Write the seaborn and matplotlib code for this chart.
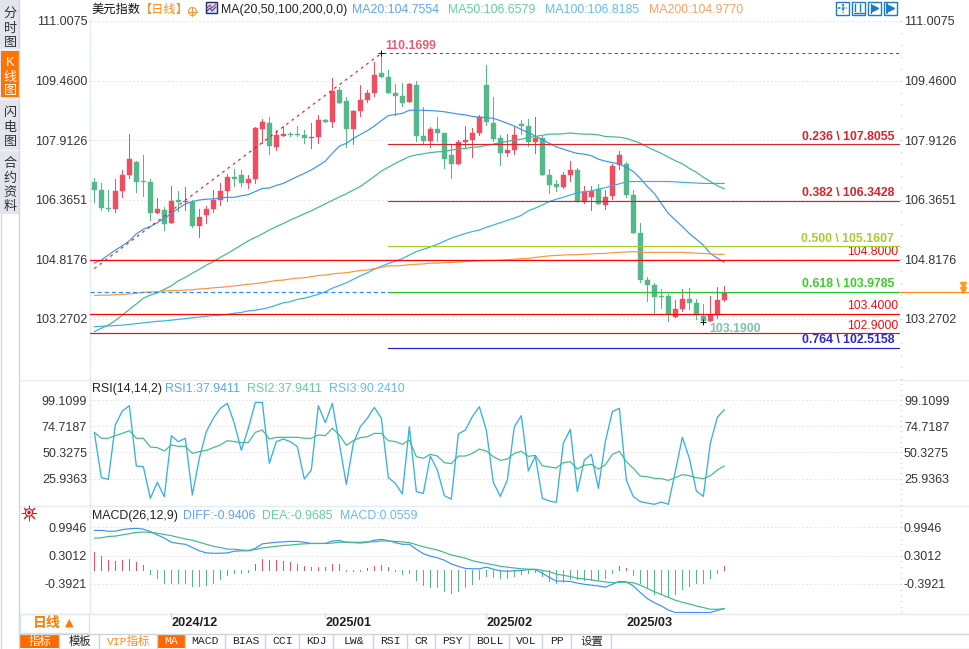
import numpy as np
import seaborn as sns
import matplotlib
matplotlib.use('Agg')
import matplotlib.pyplot as plt
from matplotlib.patches import Rectangle, Circle
from matplotlib.ticker import AutoMinorLocator

# candles, one per trading day
open_ = [106.83,106.62,106.16,106.13,106.59,107.01,107.35,106.85,106.83,106.02,
         106.10,105.76,106.36,106.31,106.31,105.68,105.97,106.13,106.36,106.59,
         106.96,107.01,106.80,106.90,108.20,108.36,107.74,108.02,108.07,108.07,
         108.05,107.98,108.00,108.44,108.39,109.22,108.93,108.20,108.67,108.96,
         109.14,109.66,109.55,109.14,109.06,108.90,109.35,108.02,107.89,108.20,
         108.10,107.53,107.30,107.87,107.92,108.10,109.35,108.36,107.97,107.58,
         107.66,108.33,108.28,107.87,107.97,107.01,106.78,106.70,107.01,107.14,
         106.31,106.44,106.65,106.23,106.46,107.27,107.30,106.49,105.50,104.28,
         104.15,103.87,103.87,103.32,103.53,103.79,103.69,103.35,103.21,103.37,
         103.76]
high = [106.93,106.81,106.62,106.90,107.14,108.07,107.37,107.53,106.90,106.41,
        106.19,106.72,106.59,106.70,106.36,106.13,106.20,106.62,106.80,107.03,
        107.16,107.14,107.01,108.26,108.46,108.51,108.18,108.28,108.13,108.28,
        108.18,108.36,108.57,108.46,109.53,109.29,109.03,108.70,109.35,109.22,
        109.94,110.17,109.74,109.37,109.40,109.39,109.45,108.78,108.26,108.51,
        108.10,107.79,107.92,108.28,108.23,108.57,109.87,109.03,108.05,108.07,
        108.28,108.44,108.45,108.51,108.02,107.16,106.88,107.09,107.37,107.19,
        106.72,106.72,106.78,106.62,107.30,107.63,107.35,106.62,105.76,104.36,
        104.20,104.05,103.92,103.76,104.05,104.08,103.79,103.66,103.87,104.10,
        104.13]
low = [106.32,106.10,106.07,106.05,106.45,106.94,106.57,106.46,105.84,106.01,
       105.58,105.76,106.07,106.10,105.65,105.41,105.76,106.05,106.23,106.33,
       106.72,106.72,106.67,106.80,107.83,107.55,107.66,108.02,108.02,108.02,
       107.84,107.71,107.84,108.39,108.26,108.88,107.74,107.81,108.54,108.90,
       109.06,109.55,109.14,108.57,108.80,108.90,107.89,107.83,107.74,107.89,
       107.19,106.93,107.30,107.74,107.48,108.05,108.31,107.89,107.27,107.50,
       107.55,108.07,107.76,107.58,107.01,106.54,106.59,106.67,106.85,106.31,
       106.28,106.10,106.26,106.13,106.39,107.16,106.44,105.50,104.23,103.74,
       103.43,103.55,103.21,103.32,103.48,103.53,103.27,103.19,103.21,103.30,
       103.74]
close = [106.62,106.16,106.13,106.59,107.01,107.42,106.83,106.83,106.02,106.13,
         105.74,106.33,106.31,106.33,105.68,105.92,106.13,106.36,106.59,106.96,
         106.90,106.80,106.90,108.23,108.39,107.76,108.05,108.07,108.05,108.05,
         107.97,108.00,108.44,108.39,109.19,108.88,108.20,108.67,108.96,109.14,
         109.61,109.55,109.14,109.06,108.88,109.37,108.02,107.89,108.20,108.10,
         107.42,107.30,107.87,107.92,108.10,108.52,108.39,107.94,107.58,107.66,
         108.05,108.28,107.87,107.97,107.01,106.75,106.70,107.01,107.14,106.33,
         106.58,106.59,106.26,106.44,107.24,107.53,106.49,105.50,104.28,104.15,
         103.84,103.84,103.40,103.53,103.79,103.69,103.37,103.21,103.37,103.76,
         103.95]

ma20 = [104.72,104.80,104.93,105.06,105.17,105.30,105.48,105.60,105.67,105.77,
        105.88,106.01,106.14,106.26,106.32,106.36,106.38,106.39,106.41,106.43,
        106.43,106.47,106.50,106.58,106.66,106.67,106.74,106.79,106.88,106.97,
        107.05,107.14,107.25,107.37,107.57,107.76,107.83,107.96,108.06,108.16,
        108.28,108.42,108.55,108.58,108.61,108.69,108.69,108.69,108.68,108.67,
        108.65,108.62,108.59,108.57,108.53,108.51,108.50,108.48,108.42,108.35,
        108.28,108.19,108.11,108.02,107.92,107.83,107.74,107.68,107.62,107.57,
        107.55,107.51,107.42,107.37,107.33,107.30,107.20,107.10,106.92,106.71,
        106.53,106.27,106.01,105.84,105.67,105.49,105.34,105.19,104.97,104.85,
        104.74]
ma50 = [102.94,103.03,103.11,103.23,103.37,103.52,103.66,103.81,103.89,103.95,
        104.04,104.13,104.26,104.35,104.46,104.56,104.67,104.76,104.87,104.97,
        105.08,105.19,105.30,105.39,105.48,105.58,105.67,105.75,105.84,105.92,
        106.00,106.08,106.17,106.26,106.35,106.44,106.52,106.62,106.71,106.84,
        106.97,107.11,107.21,107.31,107.40,107.49,107.53,107.56,107.59,107.61,
        107.62,107.66,107.68,107.70,107.73,107.74,107.78,107.81,107.85,107.88,
        107.92,107.94,107.98,108.01,108.04,108.07,108.07,108.08,108.10,108.08,
        108.07,108.07,108.05,108.01,108.00,107.99,107.96,107.90,107.83,107.74,
        107.65,107.57,107.47,107.38,107.30,107.18,107.08,106.95,106.84,106.73,
        106.65]
ma100 = [103.07,103.08,103.09,103.10,103.11,103.13,103.15,103.17,103.19,103.21,
         103.22,103.24,103.26,103.28,103.30,103.32,103.34,103.36,103.37,103.39,
         103.42,103.44,103.48,103.50,103.53,103.57,103.63,103.69,103.72,103.78,
         103.81,103.86,103.91,103.98,104.07,104.14,104.21,104.30,104.39,104.47,
         104.56,104.64,104.71,104.77,104.84,104.93,105.02,105.08,105.14,105.21,
         105.29,105.37,105.43,105.49,105.54,105.58,105.65,105.71,105.77,105.83,
         105.89,105.96,106.08,106.15,106.23,106.32,106.38,106.43,106.49,106.55,
         106.58,106.59,106.64,106.68,106.73,106.78,106.83,106.84,106.84,106.84,
         106.84,106.84,106.84,106.83,106.82,106.81,106.80,106.79,106.79,106.79,
         106.79]
ma200 = [103.88,103.89,103.89,103.90,103.91,103.92,103.94,103.96,103.97,103.98,
         104.00,104.01,104.01,104.02,104.03,104.05,104.06,104.08,104.09,104.11,
         104.13,104.15,104.17,104.19,104.21,104.24,104.27,104.28,104.31,104.33,
         104.34,104.37,104.40,104.41,104.44,104.46,104.47,104.50,104.53,104.54,
         104.58,104.61,104.65,104.65,104.66,104.68,104.69,104.70,104.72,104.72,
         104.73,104.74,104.75,104.76,104.77,104.78,104.79,104.79,104.80,104.81,
         104.82,104.84,104.84,104.87,104.89,104.91,104.92,104.93,104.94,104.94,
         104.95,104.96,104.97,104.97,104.99,105.00,105.01,105.02,105.00,105.00,
         105.00,105.00,105.00,105.00,105.00,104.99,104.98,104.97,104.96,104.95,
         104.95]

rsi3 = [69.0,26.9,25.3,75.9,88.9,93.8,37.7,37.1,7.7,22.5,
        9.2,65.9,60.4,63.5,10.8,44.9,69.7,82.1,91.4,96.0,
        77.4,52.3,72.8,96.9,96.9,40.2,60.4,62.8,60.4,55.7,
        25.6,34.0,93.8,78.0,96.0,58.8,20.7,58.8,74.3,82.1,
        92.3,82.1,26.9,21.6,11.7,74.3,13.9,12.3,47.0,34.0,
        10.1,7.0,67.5,71.2,83.6,92.9,71.2,22.5,9.5,24.7,
        74.3,84.5,33.1,47.0,7.7,5.2,4.0,58.8,71.8,13.9,
        43.3,48.6,16.9,60.4,88.3,91.4,24.7,9.2,4.6,3.3,
        2.1,4.2,2.1,32.5,64.4,44.9,14.5,9.5,58.8,83.0,
        90.2]
rsi2 = [69.0,63.5,63.5,65.9,68.1,70.6,63.5,63.5,55.4,54.8,
        51.7,57.3,56.0,56.0,49.5,51.1,52.3,54.8,57.3,61.3,
        60.4,59.4,59.7,69.0,71.2,62.8,64.4,64.4,64.4,64.4,
        63.5,63.5,66.6,65.9,72.8,66.6,57.0,61.3,64.1,65.0,
        68.1,68.1,61.3,60.4,57.9,61.9,46.4,44.9,48.6,47.0,
        40.8,39.9,47.0,47.0,49.5,53.5,51.7,46.4,43.0,44.2,
        49.5,51.4,46.7,47.6,38.0,36.8,35.9,40.8,41.8,34.9,
        38.4,39.3,34.9,38.7,48.6,51.4,41.8,35.6,28.4,27.8,
        26.3,25.9,24.4,26.9,29.7,28.7,26.9,25.9,28.7,34.0,
        37.9]

diff = [0.92,0.92,0.90,0.90,0.94,0.96,0.97,0.95,0.89,0.81,
        0.73,0.63,0.60,0.58,0.50,0.42,0.37,0.36,0.36,0.37,
        0.41,0.42,0.42,0.48,0.59,0.61,0.63,0.64,0.65,0.65,
        0.63,0.60,0.60,0.60,0.66,0.67,0.63,0.62,0.61,0.63,
        0.68,0.70,0.67,0.62,0.58,0.58,0.46,0.35,0.29,0.25,
        0.19,0.10,0.04,-0.01,-0.02,-0.02,0.02,-0.03,-0.07,-0.08,
        -0.07,-0.06,-0.04,-0.04,-0.13,-0.23,-0.32,-0.32,-0.33,-0.37,
        -0.40,-0.42,-0.44,-0.47,-0.40,-0.33,-0.34,-0.44,-0.60,-0.75,
        -0.85,-0.93,-1.03,-1.09,-1.09,-1.09,-1.09,-1.09,-1.09,-1.04,
        -0.99]
dea = [0.73,0.74,0.77,0.78,0.81,0.84,0.87,0.88,0.87,0.85,
       0.82,0.79,0.75,0.71,0.68,0.63,0.58,0.53,0.50,0.46,
       0.46,0.44,0.43,0.45,0.49,0.51,0.53,0.55,0.56,0.58,
       0.59,0.60,0.60,0.60,0.61,0.63,0.63,0.63,0.63,0.64,
       0.64,0.66,0.66,0.65,0.64,0.62,0.57,0.52,0.48,0.44,
       0.38,0.32,0.28,0.24,0.18,0.14,0.11,0.08,0.04,0.02,
       0.00,-0.02,-0.03,-0.03,-0.06,-0.09,-0.15,-0.18,-0.21,-0.25,
       -0.27,-0.29,-0.32,-0.34,-0.36,-0.35,-0.35,-0.36,-0.42,-0.50,
       -0.58,-0.65,-0.72,-0.79,-0.84,-0.88,-0.93,-0.97,-1.01,-1.01,
       -1.00]
macd_bars = [0.44,0.34,0.24,0.22,0.24,0.27,0.20,0.12,-0.10,-0.20,
             -0.32,-0.32,-0.32,-0.32,-0.39,-0.39,-0.37,-0.32,-0.22,-0.12,
             -0.07,-0.07,-0.05,0.15,0.27,0.24,0.24,0.22,0.20,0.15,
             0.10,0.07,0.07,0.07,0.15,0.15,-0.02,-0.02,-0.02,0.05,
             0.10,0.12,0.07,-0.02,-0.10,-0.07,-0.24,-0.37,-0.42,-0.42,
             -0.51,-0.56,-0.51,-0.42,-0.34,-0.22,-0.15,-0.17,-0.20,-0.20,
             -0.15,-0.10,-0.07,-0.05,-0.15,-0.27,-0.32,-0.29,-0.22,-0.22,
             -0.24,-0.24,-0.24,-0.20,-0.07,0.10,0.05,-0.12,-0.32,-0.42,
             -0.59,-0.59,-0.64,-0.59,-0.47,-0.39,-0.32,-0.32,-0.20,-0.07,
             0.10]
macd_base = -0.05

price_ticks = [111.0075, 109.46, 107.9126, 106.3651, 104.8176, 103.2702]
rsi_ticks = [99.1099, 74.7187, 50.3275, 25.9363]
macd_ticks = [0.9946, 0.3012, -0.3921]
date_pos = [11, 33, 56, 76]
date_labels = ['2024/12', '2025/01', '2025/02', '2025/03']

fib_levels = [107.8055, 106.3428, 105.1607, 103.9785, 102.5158]
fib_names = ['0.236', '0.382', '0.500', '0.618', '0.764']
fib_colors = ['#d8232a', '#d8232a', '#a3cf2e', '#22c71f', '#2020c8']
fib_text_colors = ['#d8232a', '#d8232a', '#a8cc30', '#3ccb2a', '#2a2ac8']
hand_levels = [104.80, 103.40, 102.90]
trend_x = [0, 41]
trend_y = [104.58, 110.17]
top_price = 110.1699
bottom_price = 103.19
top_day = 41
bottom_day = 87

WIDTH, HEIGHT = 969, 649
RED = '#ef4e61'
GREEN = '#55b88b'
C_MA20 = '#3a93f0'
C_MA50 = '#3dbb8a'
C_MA100 = '#38b0e6'
C_MA200 = '#f8953f'

sns.set_theme(style='white')
plt.rcParams['font.family'] = ['Liberation Sans', 'Noto Sans CJK SC', 'DejaVu Sans']
plt.rcParams['axes.unicode_minus'] = False

fig = plt.figure(figsize=(WIDTH / 100, HEIGHT / 100), dpi=100, facecolor='white')


def px_axes(left, top, right, bottom):
    return fig.add_axes([left / WIDTH, 1 - bottom / HEIGHT,
                         (right - left) / WIDTH, (bottom - top) / HEIGHT])


# page furniture in pixel coordinates
bg = px_axes(0, 0, WIDTH, HEIGHT)
bg.set_xlim(0, WIDTH)
bg.set_ylim(HEIGHT, 0)
bg.axis('off')

bg.add_patch(Rectangle((0, 0), 20, 214, fc='#e2e5ed', ec='none'))
bg.add_patch(Rectangle((1, 51), 18, 46, fc='#ff7300', ec='none'))
bg.plot([0.5, 0.5], [214, 649], color='#d5dae2', lw=1)
bg.plot([19.5, 19.5], [0, 649], color='#d0d5de', lw=1)
for y in [48.5, 98.5, 149.5]:
    bg.plot([0, 19], [y, y], color='#f4f5f8', lw=1)
for y, ch, col in [(14, '分', '#333333'), (29, '时', '#333333'), (43, '图', '#333333'),
                   (63, 'K', 'white'), (78, '线', 'white'), (91, '图', 'white'),
                   (113, '闪', '#333333'), (128, '电', '#333333'), (142, '图', '#333333'),
                   (164, '合', '#333333'), (179, '约', '#333333'), (193, '资', '#333333'),
                   (207, '料', '#333333')]:
    bg.text(10, y, ch, color=col, fontsize=9.4, ha='center', va='center')

for y in [379.5, 505.5]:
    bg.plot([20, WIDTH], [y, y], color='#e6edf2', lw=1)
bg.plot([20, WIDTH], [613.5, 613.5], color='#e6e9ee', lw=1)
bg.add_patch(Rectangle((20.5, 613.5), 69, 19, fc='white', ec='#dfe3ea', lw=1))
bg.text(47, 623.5, '日线', color='#ff7a00', fontsize=10, fontweight='bold', ha='center', va='center')
bg.text(69, 623, '▲', color='#ff7a00', fontsize=8, ha='center', va='center', family=['DejaVu Sans'])

header_y = 10
bg.text(91.5, header_y, '美元指数', color='#111111', fontsize=8.8, va='center')
bg.text(140, header_y, '【日线】', color='#ff8a14', fontsize=8.8, va='center')
bg.add_patch(Circle((192.5, 11.5), 4, fc='none', ec='#f59a3c', lw=0.8))
bg.plot([188, 197], [11.5, 11.5], color='#f59a3c', lw=0.8)
bg.plot([192.5, 192.5], [7, 16], color='#f59a3c', lw=0.8)
bg.add_patch(Rectangle((206, 2), 11, 11, fc='#dfe8f5', ec='#1c2b6b', lw=1))
bg.plot([207, 210, 212, 216], [8, 5, 8, 4], color='#d03030', lw=0.8)
bg.plot([207, 210, 212, 216], [11, 8, 11, 7], color='#2040c0', lw=0.8)
for x, txt, col in [(221, 'MA(20,50,100,200,0,0)', '#222222'), (352, 'MA20:104.7554', '#5aa5f7'),
                    (448, 'MA50:106.6579', '#62cfa0'), (545, 'MA100:106.8185', '#62bdf0'),
                    (649, 'MA200:104.9770', '#f8a263')]:
    bg.text(x, header_y, txt, color=col, fontsize=8.9, va='center')
for x, txt, col in [(92, 'RSI(14,14,2)', '#222222'), (165, 'RSI1:37.9411', '#5aa5f7'),
                    (247, 'RSI2:37.9411', '#62cfa0'), (329, 'RSI3:90.2410', '#62bdf0')]:
    bg.text(x, 389, txt, color=col, fontsize=8.9, va='center')
for x, txt, col in [(92, 'MACD(26,12,9)', '#222222'), (183, 'DIFF:-0.9406', '#5aa5f7'),
                    (262, 'DEA:-0.9685', '#62cfa0'), (340, 'MACD:0.0559', '#62bdf0')]:
    bg.text(x, 516, txt, color=col, fontsize=8.9, va='center')

# little sun icon next to the MACD panel
bg.plot([29], [512.5], marker=(8, 2, 0), ms=11, color='#e81010', mew=0.7)
bg.add_patch(Circle((29, 512.5), 3.6, fc='white', ec='#e81010', lw=0.8, zorder=3))
bg.add_patch(Circle((29, 512.5), 1.8, fc='#e81010', ec='none', zorder=4))

# toolbar icons, top right
for x in [836.5, 852.5, 868.5, 884.5]:
    bg.add_patch(Rectangle((x, 1.5), 13, 13, fc='white', ec='#1b7bc6', lw=1))
bg.plot([838.5, 847.5], [8, 8], color='#1b7bc6', lw=1.2, ls=(0, (1.5, 1)))
bg.plot([843, 843], [3.5, 12.5], color='#1b7bc6', lw=1.2, ls=(0, (1.5, 1)))
for x0 in [855, 860]:
    bg.plot([x0, x0], [3.5, 11], color='#1b7bc6', lw=1)
bg.plot([854.5, 864], [12.5, 12.5], color='#1b7bc6', lw=1)
bg.plot([871, 871], [3.5, 12.5], color='#1b7bc6', lw=1)
bg.plot([875.5], [8], marker='>', ms=5, color='#1b7bc6')
bg.plot([887, 887], [3.5, 12.5], color='#1b7bc6', lw=1.4)
bg.plot([891.5], [8], marker='>', ms=5, color='#1b7bc6')

# tab strip
bg.plot([20, WIDTH], [633.5, 633.5], color='#cfd5de', lw=1)
bg.plot([20, WIDTH], [648.5, 648.5], color='#cfd5de', lw=1)
tab_edges = [20, 59.5, 99.5, 157.5, 185.5, 225.5, 265.5, 299.5, 333.5, 373.5,
             407.5, 435.5, 469.5, 509.5, 542.5, 571.5, 611.5]
tab_names = ['指标', '模板', 'VIP指标', 'MA', 'MACD', 'BIAS', 'CCI', 'KDJ', 'LW&',
             'RSI', 'CR', 'PSY', 'BOLL', 'VOL', 'PP', '设置']
for i, name in enumerate(tab_names):
    x0, x1 = tab_edges[i], tab_edges[i + 1]
    selected = name in ('指标', 'MA')
    if selected:
        bg.add_patch(Rectangle((x0, 634), x1 - x0, 14, fc='#ff6a00', ec='none'))
    col = 'white' if selected else ('#ff8a14' if name == 'VIP指标' else '#222222')
    bg.text((x0 + x1) / 2, 641.5, name, color=col, fontsize=8.2, ha='center', va='center',
            family=['Liberation Mono', 'Noto Sans CJK SC'])
    bg.plot([x1, x1], [634, 648], color='#cfd5de', lw=1)

# orange price marker to the right of the chart
bg.plot([963, 963], [285, 289.5], marker='v', ms=4.5, color='#ff9a1e', ls='none')

days = np.arange(len(close))
opens = np.array(open_)
closes = np.array(close)
colors = [RED if c >= o else GREEN for o, c in zip(opens, closes)]
x_range = ((90 - 94.33) / 7, (901 - 94.33) / 7)
last_x = 115

ax_main = px_axes(90, 20, 901, 379)
ax_rsi = px_axes(90, 379, 901, 505)
ax_macd = px_axes(90, 505, 901, 613)

# candles
ax_main.vlines(days, low, high, colors=colors, lw=0.5, zorder=2, antialiased=False)
ax_main.bar(days, np.abs(closes - opens), bottom=np.minimum(opens, closes), width=0.74,
            color=colors, edgecolor=colors, linewidth=0.3, zorder=3)

# moving averages
for series, col in [(ma20, C_MA20), (ma50, C_MA50), (ma100, C_MA100), (ma200, C_MA200)]:
    sns.lineplot(x=days, y=series, ax=ax_main, color=col, linewidth=0.85, zorder=4)

# fibonacci retracement and hand drawn levels
for level, name, col, tcol in zip(fib_levels, fib_names, fib_colors, fib_text_colors):
    ax_main.plot([top_day + 1, last_x], [level, level], color=col, lw=0.85, zorder=5)
    ax_main.annotate(f'{name} \\ {level:.4f}', xy=(last_x - 0.75, level), xytext=(0, 5.5),
                     textcoords='offset points', color=tcol, fontsize=8.8, fontweight='bold',
                     ha='right', va='center')
for level in hand_levels:
    ax_main.plot([x_range[0], last_x], [level, level], color='#ff0000', lw=0.85, zorder=5)
    ax_main.annotate(f'{level:.4f}', xy=(last_x - 0.1, level), xytext=(0, 5.5),
                     textcoords='offset points', color='#f01010', fontsize=8.8,
                     ha='right', va='center')
ax_main.plot([x_range[0], top_day + 1], [fib_levels[3]] * 2, color='#1e8cff', lw=0.85,
             ls=(0, (3.5, 2.5)), zorder=5)
ax_main.plot([last_x, 125], [fib_levels[3]] * 2, color='#ff8a14', lw=0.85, clip_on=False, zorder=5)
ax_main.plot([top_day + 0.3, last_x], [top_price] * 2, color='#e0202a', lw=0.75,
             ls=(0, (3, 3)), zorder=5)
ax_main.plot(trend_x, trend_y, color='#f01010', lw=0.8, ls=(0, (2.5, 3.5)), zorder=5)
ax_main.plot([top_day, bottom_day], [top_price, bottom_price], ls='none', marker='+', ms=5,
             mew=0.7, color='#111111', zorder=6)
ax_main.annotate(f'{top_price:.4f}', xy=(top_day, top_price), xytext=(3, 5.2),
                 textcoords='offset points', color='#ee5a72', fontsize=8.8, va='center',
                 fontweight='bold')
ax_main.annotate(f'{bottom_price:.4f}', xy=(bottom_day, bottom_price), xytext=(4, -5.2),
                 textcoords='offset points', color='#7cc4a8', fontsize=8.8, va='center',
                 fontweight='bold')

# RSI
sns.lineplot(x=days, y=rsi3, ax=ax_rsi, color=C_MA100, linewidth=0.95, zorder=3)
sns.lineplot(x=days, y=rsi2, ax=ax_rsi, color=C_MA50, linewidth=0.85, zorder=4)

# MACD
bars = np.array(macd_bars)
ax_macd.vlines(days, macd_base, macd_base + bars,
               colors=[RED if b > 0 else GREEN for b in bars], lw=0.5, zorder=2, antialiased=False)
sns.lineplot(x=days, y=diff, ax=ax_macd, color=C_MA20, linewidth=0.85, zorder=3)
sns.lineplot(x=days, y=dea, ax=ax_macd, color=C_MA50, linewidth=0.85, zorder=4)

panels = [(ax_main, price_ticks, (101.712, 111.0334), '{:.4f}'),
          (ax_rsi, rsi_ticks, (1.46, 118.64), '{:.4f}'),
          (ax_macd, macd_ticks, (-1.102, 1.5412), '{:.4f}')]
for ax, ticks, limits, fmt in panels:
    ax.patch.set_alpha(0)
    ax.set_xlim(*x_range)
    ax.set_ylim(*limits)
    ax.set_yticks(ticks)
    ax.set_yticklabels([fmt.format(t) for t in ticks])
    ax.yaxis.set_minor_locator(AutoMinorLocator(5))
    ax.grid(axis='y', which='major', color='#e4e6ea', lw=0.8, ls=(0, (1.5, 2)), zorder=0)
    ax.set_xlabel('')
    ax.set_ylabel('')
    for side in ['top', 'right', 'bottom']:
        ax.spines[side].set_visible(False)
    ax.spines['left'].set_color('#e8ebef')
    ax.spines['left'].set_linewidth(1)
    ax.tick_params(axis='y', which='both', left=True, right=True, labelleft=True, labelright=True,
                   direction='inout', length=2, width=0.8, color='#d9dce1', labelsize=9.0,
                   labelcolor='#33333d', pad=1.1)
    ax.tick_params(axis='x', which='both', bottom=False, labelbottom=False)

ax_macd.set_xticks(date_pos)
ax_macd.set_xticklabels(date_labels, ha='left', fontweight='bold', fontsize=9.2, color='#1f1f1f')
ax_macd.tick_params(axis='x', bottom=True, labelbottom=True, length=3.5, width=0.8,
                    color='#cfd3d9', pad=-0.5)

fig.savefig('out.png', dpi=100)
